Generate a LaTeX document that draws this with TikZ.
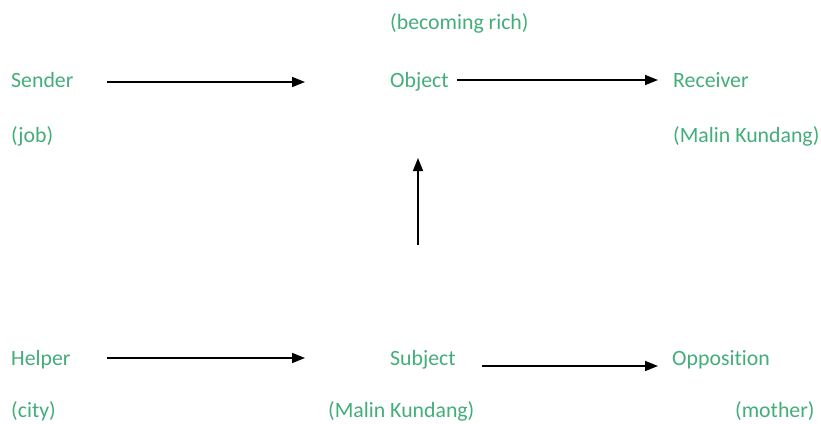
\documentclass[tikz,border=0pt]{standalone}
\usepackage{fontspec}
\setmainfont[Ligatures={NoCommon}]{Carlito}
\usetikzlibrary{arrows.meta}
\definecolor{labelgreen}{RGB}{68,174,122}
\tikzset{
  lbl/.style={anchor=base west, inner sep=0pt, text=labelgreen,
    font=\fontsize{21.8pt}{24pt}\selectfont},
  conn/.style={draw=black, line width=1.5pt,
    -{Triangle[length=13pt,width=10pt]}}
}
\begin{document}
\begin{tikzpicture}[x=1pt,y=-1pt]
  \useasboundingbox[fill=white] (0,0) rectangle (821,423);

  % actant labels, top row
  \node[lbl] (rich)     at (390,29)  {(becoming rich)};
  \node[lbl] (sender)   at (11,87)   {Sender};
  \node[lbl] (object)   at (390,87)  {Object};
  \node[lbl] (receiver) at (673,87)  {Receiver};
  \node[lbl] (job)      at (11,142)  {(job)};
  \node[lbl] (malinR)   at (673,142) {(Malin Kundang)};

  % actant labels, bottom row
  \node[lbl] (helper)     at (11,365)  {Helper};
  \node[lbl] (subject)    at (390,365) {Subject};
  \node[lbl] (opposition) at (672,365) {Opposition};
  \node[lbl] (city)       at (11,417)  {(city)};
  \node[lbl] (malinS)     at (328,417) {(Malin Kundang)};
  \node[lbl] (mother)     at (735,417) {(mother)};

  % arrow end points
  \coordinate (s1) at (107,82);  \coordinate (s2) at (305,82);
  \coordinate (o1) at (457,80);  \coordinate (o2) at (658,80);
  \coordinate (v1) at (418,245); \coordinate (v2) at (418,158);
  \coordinate (h1) at (107,358); \coordinate (h2) at (305,358);
  \coordinate (b1) at (482,366); \coordinate (b2) at (658,366);

  \draw[conn] (s1) -- (s2);
  \draw[conn] (o1) -- (o2);
  \draw[conn] (v1) -- (v2);
  \draw[conn] (h1) -- (h2);
  \draw[conn] (b1) -- (b2);
\end{tikzpicture}
\end{document}
